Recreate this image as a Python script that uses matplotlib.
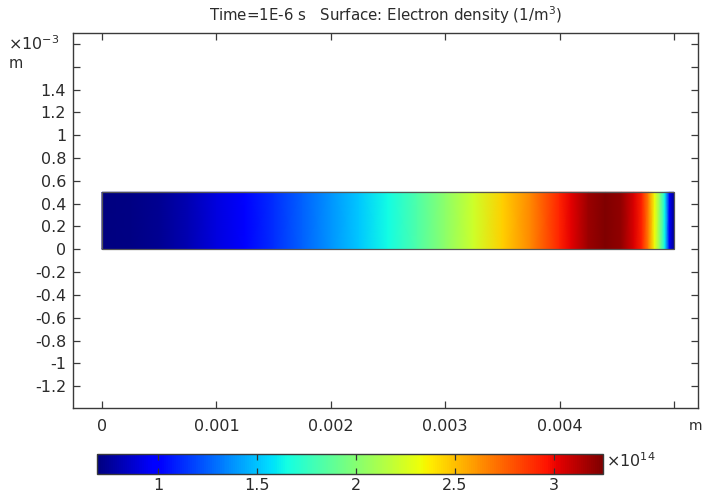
import numpy as np
import matplotlib
matplotlib.use("Agg")
import matplotlib.pyplot as plt
from matplotlib.colors import Normalize
from matplotlib.patches import Rectangle

# Electron density along the channel (x in metres, density in 1e14 1/m^3)
x_pos = [0.0, 0.25e-3, 0.5e-3, 0.75e-3, 1.0e-3, 1.25e-3, 1.5e-3, 1.75e-3,
         2.0e-3, 2.25e-3, 2.5e-3, 2.75e-3, 3.0e-3, 3.25e-3, 3.5e-3, 3.75e-3,
         4.0e-3, 4.1e-3, 4.25e-3, 4.4e-3, 4.54e-3, 4.65e-3, 4.72e-3, 4.78e-3,
         4.83e-3, 4.88e-3, 4.92e-3, 4.96e-3, 5.0e-3]
density_e14 = [0.69, 0.70, 0.73, 0.80, 0.90, 1.01, 1.13, 1.25,
               1.38, 1.51, 1.64, 1.82, 2.02, 2.22, 2.45, 2.65,
               2.92, 3.02, 3.18, 3.25, 3.20, 3.05, 2.92, 2.65,
               2.33, 1.97, 1.62, 1.00, 0.72]
height = 0.5e-3

x_ticks = [0, 0.001, 0.002, 0.003, 0.004, 0.005]
x_ticklabels = ["0", "0.001", "0.002", "0.003", "0.004", ""]
y_ticks_mm = [-1.2, -1.0, -0.8, -0.6, -0.4, -0.2, 0, 0.2, 0.4, 0.6, 0.8,
              1.0, 1.2, 1.4, 1.6, 1.8]
y_ticklabels = ["-1.2", "-1", "-0.8", "-0.6", "-0.4", "-0.2", "0", "0.2",
                "0.4", "0.6", "0.8", "1", "1.2", "1.4", "", ""]
cbar_ticks = [1, 1.5, 2, 2.5, 3]
cbar_ticklabels = ["1", "1.5", "2", "2.5", "3"]

W, H = 703, 496
fig = plt.figure(figsize=(W / 100, H / 100), dpi=100)
txt = "#2b2b2b"
edge = "#3a3a3a"
fs = 11.5

def box(l, t, r, b):
    return [l / W, 1 - b / H, (r - l) / W, (b - t) / H]

ax = fig.add_axes(box(73, 33, 698, 408))
ax.set_xlim(-0.2535e-3, 5.21e-3)
ax.set_ylim(-1.392e-3, 1.897e-3)

xs = np.array(x_pos)
X, Y = np.meshgrid(xs, [0.0, height])
C = np.vstack([density_e14, density_e14])
norm = Normalize(vmin=min(density_e14), vmax=max(density_e14))
mesh = ax.pcolormesh(X, Y, C, shading="gouraud", cmap="jet", norm=norm)
ax.add_patch(Rectangle((0, 0), xs[-1], height, fill=False,
                       edgecolor="#555555", lw=0.9))

ax.set_xticks(x_ticks)
ax.set_xticklabels(x_ticklabels)
ax.set_yticks([v * 1e-3 for v in y_ticks_mm])
ax.set_yticklabels(y_ticklabels)
ax.tick_params(direction="in", top=True, right=True, length=5, width=0.9,
               color=edge, labelsize=fs, labelcolor=txt, pad=5)
ax.tick_params(axis="x", pad=8)
for s in ax.spines.values():
    s.set_color(edge)
    s.set_linewidth(1.0)

ax.set_title("Time=1E-6 s   Surface: Electron density (1/m$^3$)",
             fontsize=10.8, color=txt, pad=9)
fig.text(8 / W, 1 - 44 / H, r"$\times$10$^{-3}$", fontsize=fs, color=txt,
         va="center", ha="left")
fig.text(9 / W, 1 - 64 / H, "m", fontsize=fs - 1, color=txt,
         va="center", ha="left")
fig.text(702 / W, 1 - 426 / H, "m", fontsize=fs - 1.5, color=txt,
         va="center", ha="right")

cax = fig.add_axes(box(97, 454, 603, 474))
cb = fig.colorbar(mesh, cax=cax, orientation="horizontal")
cb.set_ticks(cbar_ticks)
cb.set_ticklabels(cbar_ticklabels)
cax.tick_params(direction="in", top=True, bottom=True, length=4, width=0.9,
                color="#333333", labelsize=fs, labelcolor=txt, pad=3)
cb.outline.set_edgecolor(edge)
cb.outline.set_linewidth(1.0)
fig.text(606 / W, 1 - 461 / H, r"$\times$10$^{14}$", fontsize=fs, color=txt,
         va="center", ha="left")

fig.savefig("out.png", dpi=100)
